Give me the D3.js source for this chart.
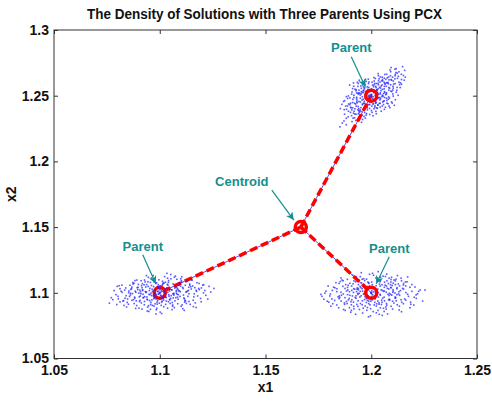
<!DOCTYPE html>
<html>
<head>
<meta charset="utf-8">
<script src="https://cdn.jsdelivr.net/npm/d3@7"></script>
<style>
  body { margin: 0; background: #fff; }
  text { font-family: Arial, "Liberation Sans", sans-serif; }
</style>
</head>
<body>
<div id="wrapper"></div>
<script>
// axis ticks
const xTicks = [1.05, 1.1, 1.15, 1.2, 1.25]
const yTicks = [1.05, 1.1, 1.15, 1.2, 1.25, 1.3]

// parents and their centroid
const parents = [[1.1, 1.1], [1.2, 1.25], [1.2, 1.1]]
const centroid = [1.1667, 1.15]

// offspring offsets around each parent, in units of 0.0001
const cloudLeft = [
  [-34,12],[57,23],[-118,-41],[83,36],[4,-19],[142,58],[-63,7],[21,74],[-171,-59],[96,-28],
  [-9,43],[47,-52],[-81,18],[127,9],[-42,-73],[208,61],[-133,31],[66,-4],[-17,-13],[13,88],
  [-92,-24],[163,-8],[-55,49],[31,-36],[-197,-27],[104,82],[-73,-91],[6,27],[72,-61],[-146,14],
  [184,33],[-28,-44],[112,-17],[-101,63],[24,11],[-238,-79],[53,107],[-14,-118],[137,42],[-61,-32],
  [85,-83],[-152,-48],[39,57],[-23,22],[241,6],[-109,-97],[11,-64],[153,96],[-84,38],[62,-9],
  [-44,79],[93,16],[-178,3],[28,-88],[-51,-12],[193,-43],[-122,72],[74,48],[2,-147],[-68,9],
  [118,-71],[-31,131],[172,19],[-93,-58],[17,-22],[-161,37],[101,-103],[-7,62],[48,28],[-129,-6],
  [218,-19],[-57,-109],[42,93],[-104,24],[79,-3],[-18,-47],[141,67],[-188,-69],[8,15],[58,-128],
  [-47,34],[108,41],[-77,-38],[34,148],[-216,17],[158,-57],[-38,-21],[91,59],[-113,4],[-2,-79],
  [133,-27],[-69,83],[52,-43],[-148,-87],[197,37],[-8,13],[69,118],[-124,-52],[19,-106],[-29,47],
  [97,8],[-166,21],[41,-68],[-59,-139],[149,29],[-88,92],[14,-31],[81,103],[-139,-17],[256,33],
  [-19,71],[61,-93],[-96,-66],[121,57],[-48,-59],[33,38],[-201,49],[87,-49],[-39,112],[168,-77],
  [-79,-11],[3,52],[109,-121],[-127,78],[46,14],[-12,-86],[138,-7],[-71,-29],[23,123],[-157,-108],
  [186,71],[-26,-4],[67,-18],[-107,39],[38,3],[-229,-37],[98,51],[-62,63],[9,-158],[128,87],
  [-87,-77],[56,22],[-21,-32],[159,-105],[-116,12],[27,81],[-53,-98],[76,-37],[-179,58],[207,-1],
  [-36,28],[88,-14],[-98,-117],[-4,99],[117,-46],[-66,44],[49,-81],[-137,26],[16,-42],[-13,-71],
  [176,77],[-82,69],[71,36],[-207,-14],[106,-92],[-27,84],[37,-117],[-147,1],[136,18],[-58,-53],
  [12,58],[-91,8],[227,-48],[-16,-129],[63,68],[-119,-33],[99,107],[-41,-2],[29,-9],[-169,-96],
  [147,46],[-72,-66],[78,11],[-108,97],[1,-38],[196,-68],[-49,17],[52,139],[-131,-57],[86,27],
  [-24,-18],[114,-39],[-86,54],[7,-96],[-188,31],[172,-112],[-6,47],[44,-27],[-154,-73],[93,76],
  [-66,2],[36,64],[-143,-28],[122,-62],[-11,9],[-84,-124],[187,24],[-33,102],[59,-74],[-102,41],
  [18,-56],[-196,-46],[131,13],[-54,118],[84,-33],[-3,-7],[-126,67],[156,52],[-43,-89],[69,-113],
  [-111,-61],[26,29],[-37,-54],[213,18],[-78,-36],[102,93],[-164,-41],[43,-15],[-15,77],[119,-58],
  [-52,-142],[166,39],[-94,21],[-27,-101],[74,127],[-138,-4],[31,-63],[-222,-52],[89,14],[-8,36],
  [54,-22],[-72,97],[144,-88],[-121,-82],[16,74],[-46,-14],[111,33],[-183,12],[64,-39],[-18,-161],
  [233,49],[-39,56],[82,-11],[-114,-119],[-1,24],[126,-81],[-89,-7],[37,111],[-60,-49],[174,11],
  [-132,43],[9,-72],[-29,-27],[95,72],[-174,-63],[61,-102],[-56,84],[22,4],[148,98],[-97,-31],
  [-7,-11],[116,-134],[-141,57],[47,-52],[-63,131],[179,-24],[-22,-84],[77,42],[-203,-89],[14,66],
  [-81,22],[124,4],[-44,-126],[28,-34],[-117,93],[203,58],[-10,-59],[66,-7],[-159,-22],[104,122],
  [-35,-96],[41,79],[-99,-3],[138,-66],[-74,61],[6,-21],[-192,54],[161,-31],[-26,-38],[79,19]
]
const cloudTop = [
  [12,24],[-41,-63],[63,31],[-17,48],[32,94],[-68,-34],[94,123],[3,-42],[-52,-109],[41,-13],
  [21,71],[-88,-92],[72,14],[-9,-21],[113,152],[-28,33],[54,-48],[-61,-138],[14,112],[83,62],
  [-19,-81],[34,12],[-107,-63],[62,133],[-38,23],[6,81],[102,43],[-79,-168],[23,-29],[-12,63],
  [51,82],[-58,-44],[131,103],[-33,-97],[43,142],[-98,-127],[11,-62],[72,-19],[-47,14],[28,41],
  [-24,-148],[92,183],[-71,-79],[2,11],[63,92],[-42,-8],[122,63],[-91,-197],[19,131],[-6,-51],
  [43,22],[-63,71],[82,143],[-31,-128],[13,-99],[104,112],[-79,-58],[52,3],[-118,-172],[33,168],
  [-22,19],[71,72],[-49,-91],[4,-127],[142,163],[-38,-27],[24,41],[-101,-17],[61,-39],[-13,92],
  [93,34],[-72,-141],[41,103],[-27,2],[9,-8],[112,201],[-59,-113],[31,-71],[-137,-208],[81,91],
  [-16,-38],[53,124],[-88,-52],[1,52],[74,-57],[-54,-162],[18,1],[124,132],[-31,61],[42,-88],
  [-77,-99],[64,162],[-8,-11],[103,72],[-108,-118],[34,83],[-42,-69],[14,29],[82,-9],[-61,12],
  [148,221],[-18,-108],[53,48],[-69,-22],[3,-79],[91,152],[-38,38],[22,-119],[-126,-141],[61,103],
  [-9,31],[72,23],[-93,-152],[34,114],[-51,-48],[113,92],[12,-37],[-28,-171],[44,58],[-82,4],
  [131,182],[-23,11],[63,-14],[-97,-88],[4,103],[84,121],[-62,-82],[21,-58],[-41,82],[102,13],
  [-73,-188],[52,141],[-12,-68],[33,52],[-121,-79],[92,83],[-29,-17],[13,138],[71,98],[-48,-121],
  [41,-32],[-87,-28],[158,193],[-19,-92],[62,71],[-58,42],[1,-113],[112,128],[-43,-148],[31,18],
  [-109,-161],[83,42],[-11,3],[52,-79],[-68,-47],[24,93],[123,172],[-32,-58],[63,23],[-81,-118],
  [8,-153],[94,214],[-47,31],[42,12],[-148,-237],[73,163],[-18,-29],[101,141],[-59,-98],[2,44],
  [32,-18],[-92,-108],[134,84],[-41,-181],[54,113],[-8,-97],[81,-27],[-101,-68],[23,62],[-27,123],
  [143,123],[-69,-12],[61,52],[-118,-221],[13,82],[42,-58],[-52,-19],[114,163],[-78,-139],[34,152],
  [-3,8],[27,47],[-36,-57],[79,101],[-63,18],[18,-42],[-84,-133],[47,74],[-14,-5],[106,89],
  [-27,-74],[58,16],[-117,-103],[37,128],[-56,-118],[87,57],[7,-23],[-71,46],[128,148],[-44,-33],
  [16,93],[-98,-57],[69,124],[-22,-136],[97,32],[-37,67],[26,-93],[-129,-192],[76,98],[-7,-68],
  [46,38],[-64,-107],[117,176],[-17,24],[57,-3],[-86,-171],[11,68],[138,98],[-52,5],[24,-137],
  [-112,-78],[66,88],[-33,-42],[89,196],[-7,-143],[36,-16],[-74,-63],[152,154],[-21,36],[49,113],
  [-46,-203],[104,58],[-58,22],[17,-88],[76,136],[-96,-92],[29,27],[-11,104],[118,206],[-67,-54],
  [58,-67],[-34,-158],[161,141],[-82,-14],[39,64],[-4,-32],[96,118],[-57,-128],[21,-48],[-128,-106],
  [58,-42],[-47,56],[86,-18],[-72,37],[31,-71],[-28,84],[104,-3],[-93,12],[67,-88],[-61,93],
  [44,-24],[-36,41],[118,26],[-112,-21],[79,-61],[-83,72],[23,-52],[-19,67],[96,-47],[-88,54],
  [51,-8],[-54,18],[137,62],[-131,-44],[62,-104],[-66,102],[12,-33],[-9,38],[109,-73],[-102,81],
  [38,-58],[-43,27],[74,-36],[-77,49],[127,3],[-118,-7],[18,-77],[-24,108],[88,-91],[-57,118],
  [143,87],[-139,-66],[47,-118],[-91,29],[69,8],[-14,126],[114,-31],[-108,-2],[29,-96],[-49,74],
  [156,118],[-146,-98],[84,-79],[-69,21],[7,-63],[-33,52],[99,-56],[-84,97],[121,41],[-126,-38]
]
const cloudRight = [
  [23,-14],[-61,33],[92,41],[-12,-63],[134,-19],[-103,8],[41,84],[-29,-31],[73,-93],[-152,-44],
  [3,17],[163,52],[-84,-71],[112,-2],[-43,103],[54,-41],[-121,62],[203,-34],[-18,-112],[81,71],
  [-193,-9],[31,28],[-72,-23],[143,91],[9,-143],[-114,-82],[62,13],[-53,48],[101,-64],[-162,31],
  [231,22],[-34,-7],[44,119],[-92,-53],[122,39],[-11,72],[71,-124],[-143,4],[17,-73],[-63,-103],
  [172,-11],[-204,52],[93,101],[-24,-44],[51,61],[-101,-19],[152,-83],[6,148],[-74,83],[113,-42],
  [-41,-154],[32,2],[-133,92],[84,-21],[-8,43],[192,63],[-82,-122],[63,-61],[-173,-58],[124,131],
  [-52,11],[14,-92],[103,24],[-112,41],[43,-18],[-233,-27],[141,-53],[-31,93],[72,52],[-94,-91],
  [22,113],[-63,-12],[213,-42],[-124,-37],[52,-172],[-19,21],[94,-103],[-152,72],[131,8],[-42,-61],
  [1,-8],[162,83],[-83,31],[61,-142],[-184,18],[114,62],[-12,-82],[33,161],[-103,-113],[83,29],
  [-54,-32],[183,-114],[-132,-9],[42,51],[-71,121],[123,-91],[12,7],[-163,-93],[74,92],[-32,-52],
  [224,11],[-92,18],[51,-72],[-201,-71],[104,73],[-21,-133],[153,28],[-61,62],[34,-33],[-113,102],
  [91,-12],[-43,31],[172,121],[-142,-63],[24,-101],[-84,3],[132,-131],[2,82],[-214,12],[62,42],
  [-14,-22],[113,-32],[-123,-134],[44,93],[-51,-82],[243,-63],[-93,51],[71,4],[-172,38],[11,133],
  [144,-72],[-33,62],[82,-53],[-104,-43],[53,18],[-74,-163],[192,11],[-151,-24],[31,-63],[-22,104],
  [101,-124],[-61,23],[164,2],[-134,49],[4,-54],[73,142],[-191,-102],[121,-14],[-43,-91],[23,54],
  [-82,91],[201,-93],[-112,-14],[63,81],[-13,-183],[94,38],[-163,9],[42,-12],[-52,123],[152,59],
  [-94,-134],[13,32],[133,-102],[-224,-49],[84,112],[-31,3],[114,91],[-72,-42],[32,-134],[-124,33],
  [183,42],[-23,-73],[61,-33],[-143,113],[102,4],[-62,-61],[254,21],[-101,72],[24,-152],[-41,12],
  [141,111],[-182,-83],[72,-81],[-9,52],[121,31],[-83,-103],[43,-114],[-154,-114],[93,82],[2,-28],
  [-27,27],[87,-57],[-64,-6],[128,67],[-117,14],[37,-87],[-8,141],[176,-27],[-96,-68],[58,11],
  [-157,-31],[19,-41],[97,-18],[-46,76],[-238,-12],[148,34],[-68,-88],[27,96],[-109,57],[69,-107],
  [-3,-121],[118,-61],[-78,27],[39,66],[-186,-47],[7,-16],[186,-71],[-127,-77],[56,127],[-37,-11],
  [86,-4],[-56,-127],[153,71],[-19,49],[-141,-19],[47,22],[-88,134],[107,-78],[-6,-92],[219,-8],
  [-117,-66],[66,58],[-29,-101],[138,17],[-66,37],[18,-47],[-178,43],[96,118],[-13,76],[163,-56],
  [-48,-23],[28,101],[-97,-148],[116,-37],[-26,16],[-138,97],[79,-12],[-2,-64],[207,44],[-69,9],
  [48,-89],[-108,-54],[9,37],[187,-87],[-57,-4],[99,56],[-149,-36],[38,-164],[-86,68],[129,-9],
  [-18,-57],[76,34],[-196,-24],[58,-118],[-36,107],[169,84],[-126,-88],[16,-28],[-67,27],[108,98],
  [-146,86],[37,-76],[-4,-176],[117,104],[-208,-64],[86,-48],[-49,39],[143,-144],[-21,-17],[67,124],
  [-89,-24],[212,-16],[-58,96],[26,-84],[-131,-127],[5,62],[134,52],[-76,-36],[49,-56],[-167,77],
  [91,62],[-38,-117],[158,-47],[-111,22],[13,-39],[-47,153],[77,-161],[-219,-3],[104,13],[-16,82]
]

const labels = ["Parent", "Parent", "Parent", "Centroid"]
const titleText = "The Density of Solutions with Three Parents Using PCX"

const width = 492
const height = 403
const margin = { top: 30, right: 15, bottom: 44.5, left: 54 }

const svg = d3.select("#wrapper").append("svg")
    .attr("width", width)
    .attr("height", height)

const x = d3.scaleLinear().domain([1.05, 1.25]).range([margin.left, width - margin.right])
const y = d3.scaleLinear().domain([1.05, 1.3]).range([height - margin.bottom, margin.top])

const teal = "#138f8f"

// frame
svg.append("rect")
    .attr("x", x(1.05)).attr("y", y(1.3))
    .attr("width", x(1.25) - x(1.05)).attr("height", y(1.05) - y(1.3))
    .attr("fill", "white").attr("stroke", "#333").attr("stroke-width", 1)

const axisStyle = g => {
    g.select(".domain").remove()
    g.selectAll(".tick line").attr("stroke", "#333")
    g.selectAll(".tick text")
        .attr("fill", "#111")
        .style("font-size", "14px")
        .style("font-weight", "bold")
        .style("font-family", "Arial, 'Liberation Sans', sans-serif")
}

svg.append("g")
    .attr("transform", `translate(0,${y(1.05)})`)
    .call(d3.axisBottom(x).tickValues(xTicks).tickSize(-4).tickPadding(7).tickFormat(d3.format("")))
    .call(axisStyle)
svg.append("g")
    .attr("transform", `translate(0,${y(1.3)})`)
    .call(d3.axisTop(x).tickValues(xTicks).tickSize(-4).tickFormat(""))
    .call(axisStyle)
svg.append("g")
    .attr("transform", `translate(${x(1.05)},0)`)
    .call(d3.axisLeft(y).tickValues(yTicks).tickSize(-4).tickPadding(5).tickFormat(d3.format("")))
    .call(axisStyle)
svg.append("g")
    .attr("transform", `translate(${x(1.25)},0)`)
    .call(d3.axisRight(y).tickValues(yTicks).tickSize(-4).tickFormat(""))
    .call(axisStyle)

// offspring clouds
const drawCloud = (cloud, parent) => {
    svg.append("g")
        .selectAll("rect")
        .data(cloud)
        .join("rect")
        .attr("x", d => x(parent[0] + d[0] / 10000) - 0.8)
        .attr("y", d => y(parent[1] + d[1] / 10000) - 0.8)
        .attr("width", 1.6)
        .attr("height", 1.6)
        .attr("fill", "#2222ff")
        .attr("opacity", 0.75)
}

drawCloud(cloudTop, parents[1])
drawCloud(cloudRight, parents[2])

// lines from centroid to parents
const lineGroup = svg.append("g")
parents.forEach(p => {
    lineGroup.append("line")
        .attr("x1", x(centroid[0])).attr("y1", y(centroid[1]))
        .attr("x2", x(p[0])).attr("y2", y(p[1]))
        .attr("stroke", "#5050ff").attr("stroke-width", 1)
    lineGroup.append("line")
        .attr("x1", x(centroid[0])).attr("y1", y(centroid[1]))
        .attr("x2", x(p[0])).attr("y2", y(p[1]))
        .attr("stroke", "#ff0000").attr("stroke-width", 3.5)
        .attr("stroke-dasharray", "8,4")
})

// markers
const markerPts = [parents[1], parents[2], centroid, parents[0]]
svg.append("g")
    .selectAll("circle")
    .data(markerPts)
    .join("circle")
    .attr("cx", d => x(d[0]))
    .attr("cy", d => y(d[1]))
    .attr("r", 5.5)
    .attr("fill", "none")
    .attr("stroke", "#ff0000")
    .attr("stroke-width", 3.5)

drawCloud(cloudLeft, parents[0])

svg.append("g")
    .selectAll("circle")
    .data(parents)
    .join("circle")
    .attr("cx", d => x(d[0]))
    .attr("cy", d => y(d[1]))
    .attr("r", 1.3)
    .attr("fill", "#3030ff")

// annotations
const defs = svg.append("defs")
defs.append("marker")
    .attr("id", "arrowhead")
    .attr("viewBox", "0 0 10 10")
    .attr("refX", 10).attr("refY", 5)
    .attr("markerWidth", 9).attr("markerHeight", 8)
    .attr("markerUnits", "userSpaceOnUse")
    .attr("orient", "auto")
    .append("path")
    .attr("d", "M0,0 L10,5 L0,10 L3,5 Z")
    .attr("fill", teal)

const annotationTargets = [parents[0], parents[1], parents[2], centroid]
// text centre offset and arrow start/end offsets, in pixels from the target
const annotationLayout = [
    { tx: -17, ty: -42, sx: -17, sy: -38, ex: -4, ey: -9 },
    { tx: -20, ty: -44, sx: -20, sy: -39, ex: -6, ey: -9 },
    { tx: 18, ty: -40, sx: 18, sy: -36, ex: 5, ey: -9 },
    { tx: -59, ty: -41, sx: -29, sy: -37, ex: -7, ey: -7 }
]

const ann = svg.append("g")
annotationTargets.forEach((t, i) => {
    const px = x(t[0]), py = y(t[1])
    const l = annotationLayout[i]
    ann.append("text")
        .attr("x", px + l.tx).attr("y", py + l.ty)
        .attr("text-anchor", "middle")
        .attr("fill", teal)
        .style("font-size", "13px")
        .style("font-weight", "bold")
        .text(labels[i])
    ann.append("line")
        .attr("x1", px + l.sx).attr("y1", py + l.sy)
        .attr("x2", px + l.ex).attr("y2", py + l.ey)
        .attr("stroke", teal).attr("stroke-width", 1.2)
        .attr("marker-end", "url(#arrowhead)")
})

// title and axis labels
svg.append("text")
    .attr("x", 87).attr("y", 19)
    .attr("fill", "#111")
    .attr("textLength", 355)
    .attr("lengthAdjust", "spacingAndGlyphs")
    .style("font-size", "14px")
    .style("font-weight", "bold")
    .text(titleText)

svg.append("text")
    .attr("x", x(1.15)).attr("y", 392)
    .attr("text-anchor", "middle")
    .attr("fill", "#111")
    .style("font-size", "14px")
    .style("font-weight", "bold")
    .text("x1")

svg.append("text")
    .attr("transform", `translate(16,${y(1.175)}) rotate(-90)`)
    .attr("text-anchor", "middle")
    .attr("fill", "#111")
    .style("font-size", "14px")
    .style("font-weight", "bold")
    .text("x2")
</script>
</body>
</html>
